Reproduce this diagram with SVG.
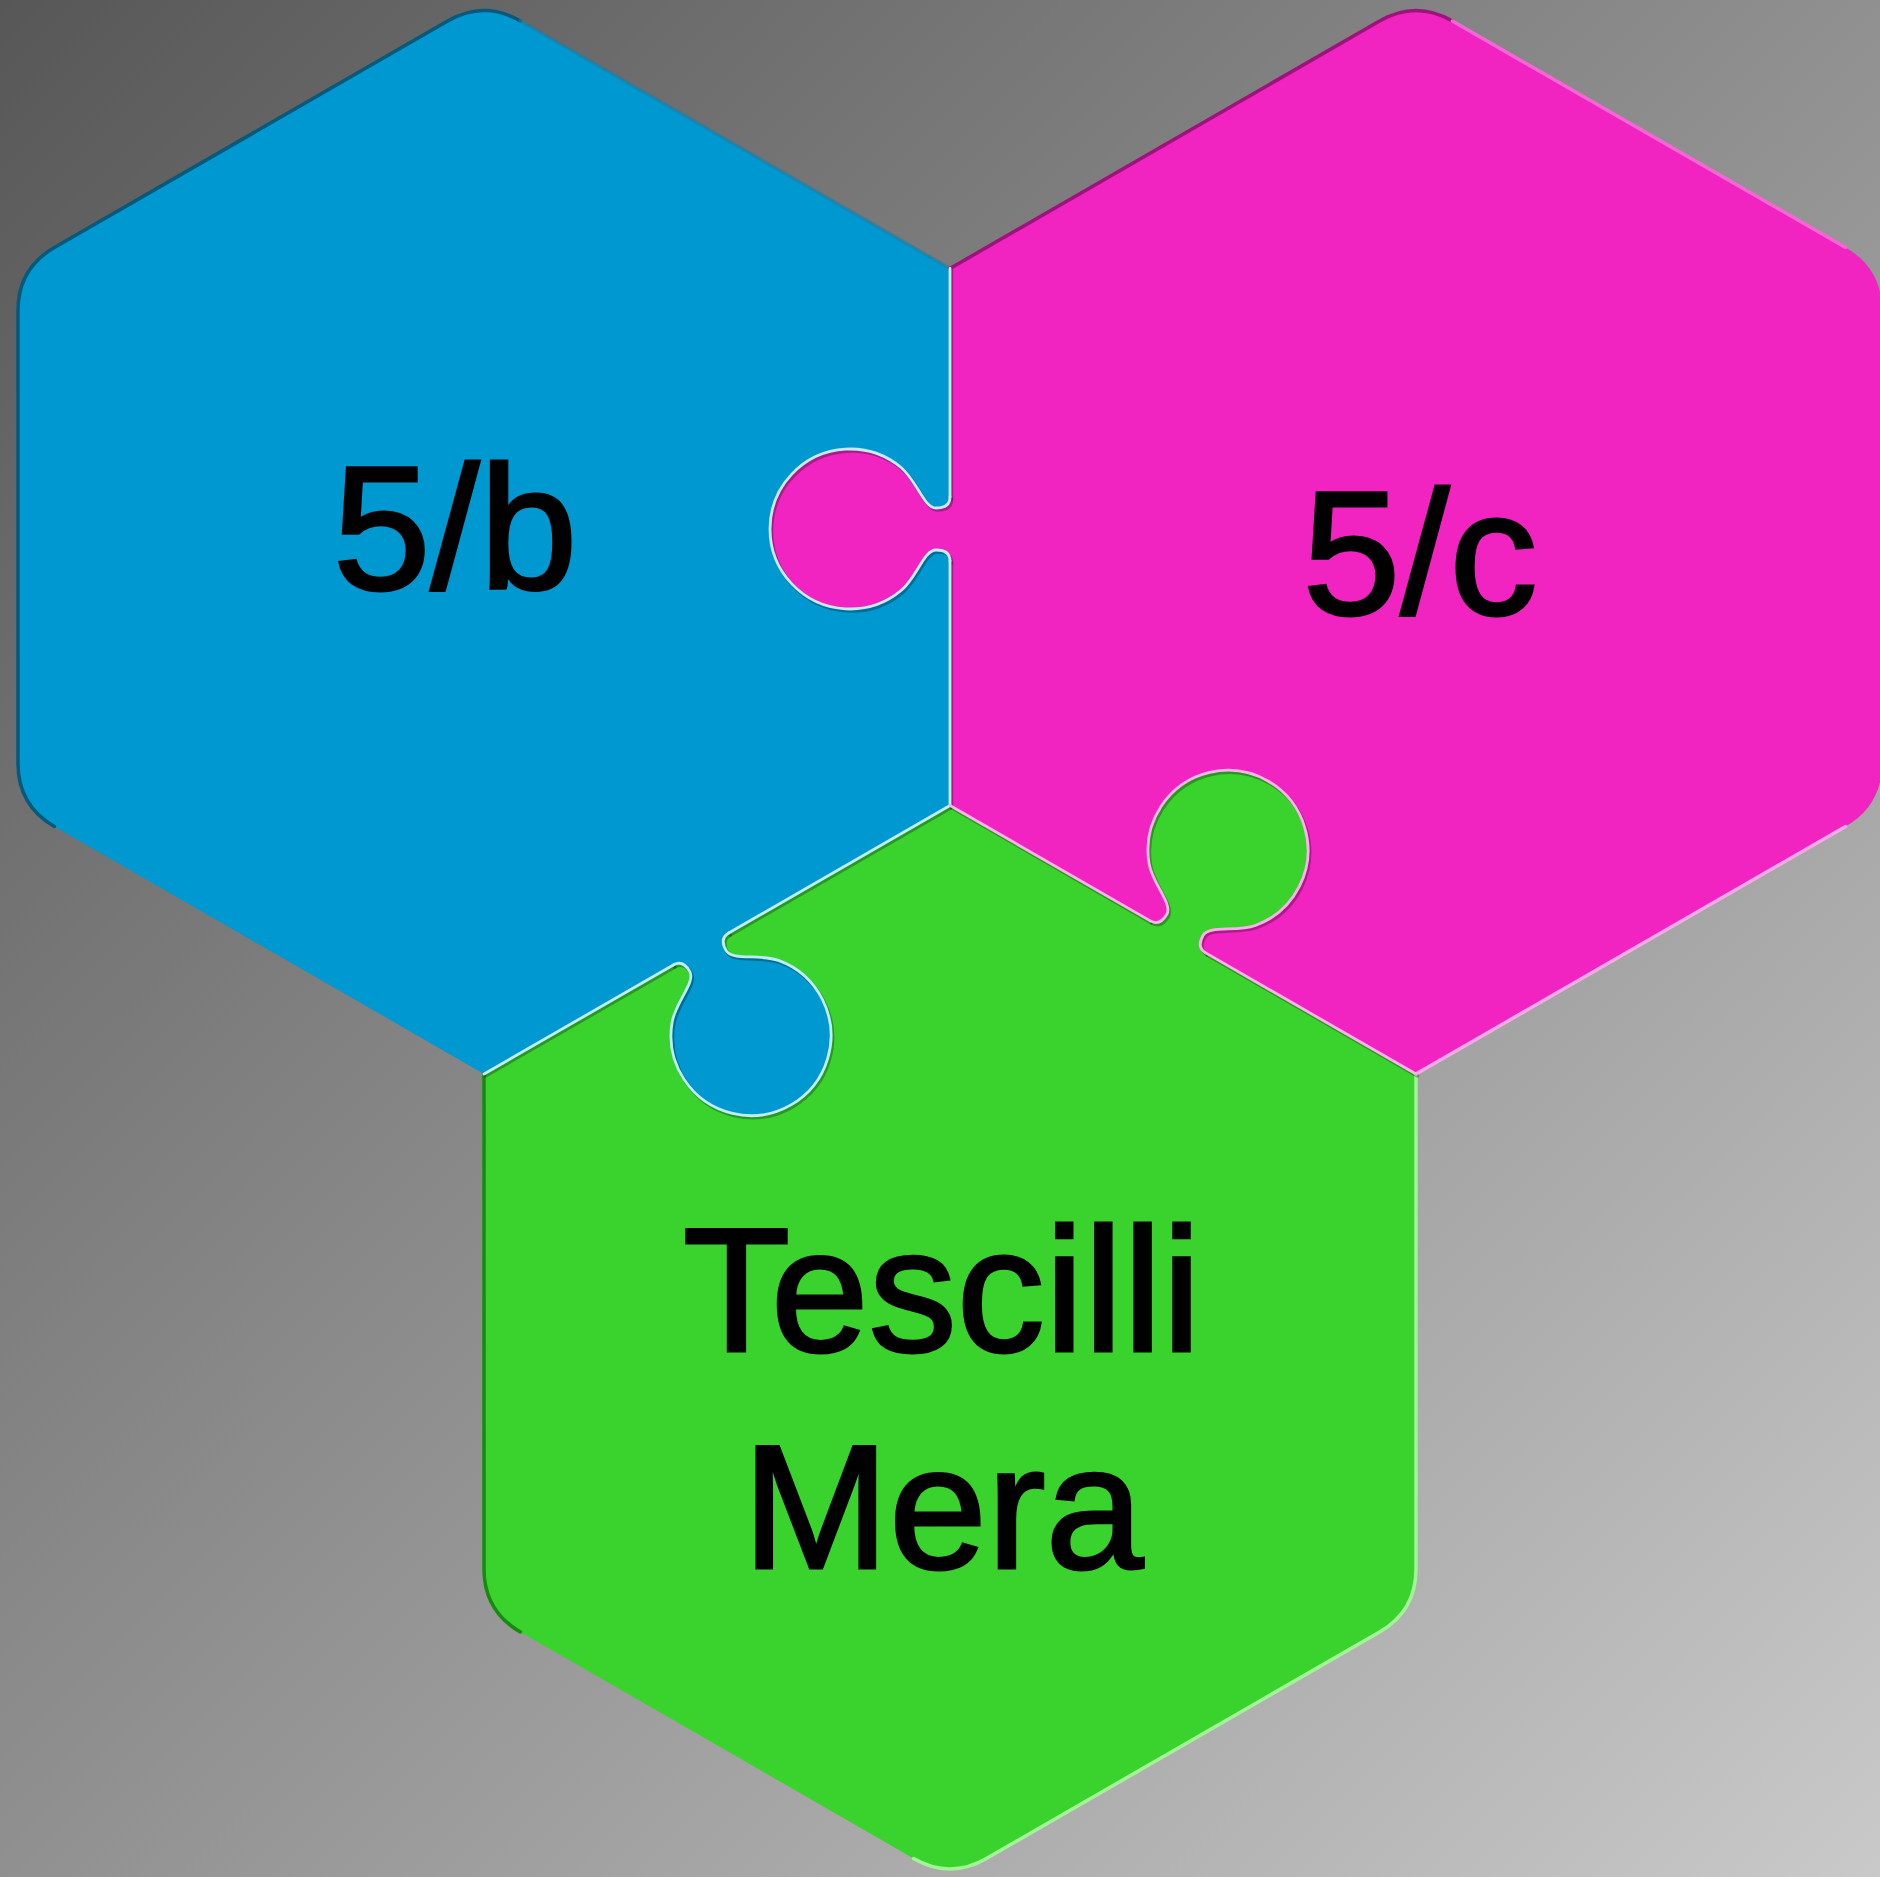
<svg xmlns="http://www.w3.org/2000/svg" xmlns:xlink="http://www.w3.org/1999/xlink" width="1880" height="1877" viewBox="0 0 1880 1877">
  <defs>
    <linearGradient id="bg" x1="0" y1="0" x2="1" y2="1">
      <stop offset="0" stop-color="#575757"/>
      <stop offset="1" stop-color="#c9c9c9"/>
    </linearGradient>
    <path id="tabFill" d="M 10 -32 L 0 -32 C 0 -24 -5 -21 -14 -21 C -26 -21 -33 -48 -48.6 -61.3 A 80 80 0 1 0 -48.6 61.3 C -33 48 -26 21 -14 21 C -5 21 0 24 0 32 L 10 32 Z"/>
    <path id="tabLine" d="M 0 -32 C 0 -24 -5 -21 -14 -21 C -26 -21 -33 -48 -48.6 -61.3 A 80 80 0 1 0 -48.6 61.3 C -33 48 -26 21 -14 21 C -5 21 0 24 0 32"/>
  </defs>
  <style>
    .blue { fill: #0098d0; }
    .pink { fill: #f224c1; }
    .green { fill: #3ad32d; }
    .label { font-family: "Liberation Sans", Arial, sans-serif; font-size: 176px; fill: #000000; stroke: #000000; stroke-width: 3; text-anchor: middle; }
    .rim { fill: none; stroke-width: 3.5; stroke-linecap: round; stroke-linejoin: round; }
    .shadow { fill: none; stroke: #000000; stroke-opacity: 0.28; stroke-width: 3.5; stroke-linecap: round; stroke-linejoin: round; }
    .hl { fill: none; stroke-width: 2.8; stroke-linecap: round; stroke-linejoin: round; }
  </style>

  <rect x="0" y="0" width="1880" height="1877" fill="url(#bg)"/>

  <g id="node-5b">
    <path class="blue" d="M 950 268.5 L 520.4 21 Q 484 0 447.6 21 L 54.4 247.5 Q 18 268.5 18 310.5 L 18 763.5 Q 18 805.5 54.4 826.5 L 484 1074 L 950 805.5 Z"/>
    <path class="rim" stroke="#06597a" d="M 520.4 21 Q 484 0 447.6 21 L 54.4 247.5 Q 18 268.5 18 310.5 L 18 763.5 Q 18 805.5 54.4 826.5"/>
    <path class="rim" stroke="#1a7ea6" stroke-opacity="0.6" d="M 950 268.5 L 520.4 21"/>
    <text class="label" x="455" y="589">5/b</text>
  </g>

  <g id="node-5c">
    <path class="pink" d="M 950 268.5 L 1379.6 21 Q 1416 0 1452.4 21 L 1845.6 247.5 Q 1882 268.5 1882 310.5 L 1882 763.5 Q 1882 805.5 1845.6 826.5 L 1416 1074 L 950 805.5 Z"/>
    <path class="rim" stroke="#9a1479" d="M 950 268.5 L 1379.6 21 Q 1416 0 1452.4 21"/>
    <path class="rim" stroke="#f766d4" d="M 1452.4 21 L 1845.6 247.5"/>
    <path class="rim" stroke="#f9a9e7" d="M 1845.6 826.5 L 1416 1074"/>
    <text class="label" x="1420" y="614">5/c</text>
  </g>

  <g id="node-tescilli-mera">
    <path class="green" d="M 950 805.5 L 1416 1074 L 1416 1569 Q 1416 1611 1379.6 1632 L 986.4 1858.5 Q 950 1879.5 913.6 1858.5 L 520.4 1632 Q 484 1611 484 1569 L 484 1074 Z"/>
    <path class="rim" stroke="#178a10" d="M 484 1074 L 484 1569 Q 484 1611 520.4 1632"/>
    <path class="rim" stroke="#a2f596" d="M 1416 1074 L 1416 1569 Q 1416 1611 1379.6 1632 L 986.4 1858.5 Q 950 1879.5 913.6 1858.5"/>
    <text class="label" x="942" y="1351">Tescilli</text>
    <text class="label" x="943" y="1568">Mera</text>
  </g>

  <g id="tabs">
    <use href="#tabFill" xlink:href="#tabFill" class="pink" transform="translate(950 529)"/>
    <use href="#tabFill" xlink:href="#tabFill" class="blue" transform="translate(701 949) rotate(-120)"/>
    <use href="#tabFill" xlink:href="#tabFill" class="green" transform="translate(1178 936.9) rotate(120)"/>
  </g>

  <g id="connectors">
    <g transform="translate(1.5 2)">
      <path class="shadow" d="M 950 268.5 L 950 497"/>
      <use href="#tabLine" xlink:href="#tabLine" class="shadow" transform="translate(950 529)"/>
      <path class="shadow" d="M 950 561 L 950 805.5"/>
      <path class="shadow" d="M 950 805.5 L 728.7 933"/>
      <use href="#tabLine" xlink:href="#tabLine" class="shadow" transform="translate(701 949) rotate(-120)"/>
      <path class="shadow" d="M 673.3 965 L 484 1074"/>
      <path class="shadow" d="M 950 805.5 L 1150.3 920.9"/>
      <use href="#tabLine" xlink:href="#tabLine" class="shadow" transform="translate(1178 936.9) rotate(120)"/>
      <path class="shadow" d="M 1205.7 952.9 L 1416 1074"/>
    </g>
    <path class="hl" stroke="#c4ecf8" d="M 950 268.5 L 950 497"/>
    <use href="#tabLine" xlink:href="#tabLine" class="hl" stroke="#c4ecf8" transform="translate(950 529)"/>
    <path class="hl" stroke="#c4ecf8" d="M 950 561 L 950 805.5"/>
    <path class="hl" stroke="#bdeef5" d="M 950 805.5 L 728.7 933"/>
    <use href="#tabLine" xlink:href="#tabLine" class="hl" stroke="#bdeef5" transform="translate(701 949) rotate(-120)"/>
    <path class="hl" stroke="#bdeef5" d="M 673.3 965 L 484 1074"/>
    <path class="hl" stroke="#fbb4ea" d="M 950 805.5 L 1150.3 920.9"/>
    <use href="#tabLine" xlink:href="#tabLine" class="hl" stroke="#fbb4ea" transform="translate(1178 936.9) rotate(120)"/>
    <path class="hl" stroke="#fbb4ea" d="M 1205.7 952.9 L 1416 1074"/>
  </g>
</svg>
